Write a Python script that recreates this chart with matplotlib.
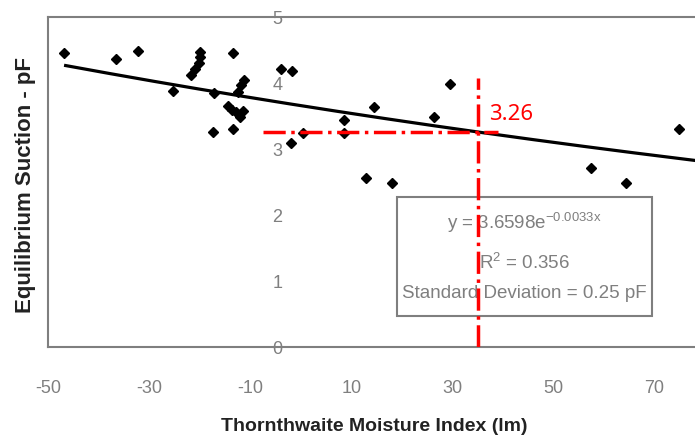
import numpy as np
import matplotlib.pyplot as plt
from matplotlib.patches import Rectangle

# ----- DATA -----
tmi = [-46.8, -36.6, -32.2, -25.3,
       -20.0, -20.0, -20.2, -21.0, -21.8,
       -13.3, -3.9, -1.7, -11.3, -11.8, -12.5, -17.1,
       -14.4, -13.6, -12.8, -11.5, -12.1,
       -17.3, -13.3, 0.4, -1.9,
       8.6, 8.6, 14.5, 26.3, 29.6, 13.0, 18.1,
       57.4, 64.3, 74.9]
suction = [4.46, 4.36, 4.49, 3.88,
           4.47, 4.40, 4.30, 4.21, 4.12,
           4.46, 4.22, 4.19, 4.05, 3.97, 3.87, 3.85,
           3.65, 3.59, 3.57, 3.58, 3.48,
           3.26, 3.30, 3.25, 3.09,
           3.44, 3.24, 3.64, 3.48, 3.98, 2.57, 2.48,
           2.71, 2.48, 3.31]

fit_a, fit_b = 3.6598, -0.0033
fit_range = (-46.5, 78)
mark_x, mark_y = 35, 3.26

x_ticks = [-50, -30, -10, 10, 30, 50, 70]
y_ticks = [0, 1, 2, 3, 4, 5]

arial = ['Liberation Sans', 'DejaVu Sans']
grey = '#7f7f7f'

plt.rcParams['mathtext.fontset'] = 'custom'
plt.rcParams['mathtext.rm'] = 'Liberation Sans'
plt.rcParams['mathtext.it'] = 'Liberation Sans'

fig = plt.figure(figsize=(6.95, 4.4), dpi=100)
ax = fig.add_axes([0.069, 0.211, 0.931, 0.75])

ax.set_xlim(-50, 78)
ax.set_ylim(0, 5)

# fitted curve
xx = np.linspace(fit_range[0], fit_range[1], 200)
ax.plot(xx, fit_a * np.exp(fit_b * xx), color='black', lw=2.3, zorder=3)

# data points
ax.plot(tmi, suction, 'D', color='black', ms=5, zorder=4)

# red guide lines
ax.plot([-7.5, 39], [mark_y, mark_y], color='red', lw=2.5, ls='-.', zorder=5)
ax.plot([mark_x, mark_x], [0, 4.08], color='red', lw=2.5, ls='-.', zorder=5)
ax.text(37.2, 3.52, '3.26', color='red', fontsize=16, va='center', ha='left',
        family=['Noto Sans', 'DejaVu Sans'])

# equation box
box = Rectangle((0.539, 0.094), 0.394, 0.361, transform=ax.transAxes,
                facecolor='white', edgecolor=grey, lw=1.5, zorder=4)
ax.add_patch(box)
ax.text(0.736, 0.375, r'y = 3.6598e$^{\mathrm{-0.0033x}}$', transform=ax.transAxes,
        ha='center', va='center', color=grey, fontsize=13.5, family=arial, zorder=4.5)
ax.text(0.736, 0.254, r'R$^{\mathrm{2}}$ = 0.356', transform=ax.transAxes,
        ha='center', va='center', color=grey, fontsize=13.5, family=arial, zorder=4.5)
ax.text(0.736, 0.163, 'Standard Deviation = 0.25 pF', transform=ax.transAxes,
        ha='center', va='center', color=grey, fontsize=13.5, family=arial, zorder=4.5)

# y labels sit on the axis near x=0
ax.set_yticks([])
for v in y_ticks:
    ax.text(-4.6, v - 0.04, str(v), ha='center', va='center', color=grey,
            fontsize=13, family=arial, zorder=6)

ax.set_xticks(x_ticks)
ax.set_xticklabels([str(t) for t in x_ticks], color=grey, fontsize=13, family=arial)
ax.tick_params(axis='x', length=0, pad=24)

for s in ['left', 'top', 'bottom']:
    ax.spines[s].set_color(grey)
    ax.spines[s].set_linewidth(1.5)
ax.spines['right'].set_visible(False)

fig.text(0.538, 0.03, 'Thornthwaite Moisture Index (lm)', ha='center', va='center',
         fontsize=14, fontweight='bold', color='#222222', family=arial)
fig.text(0.036, 0.58, 'Equilibrium Suction - pF', rotation=90, ha='center', va='center',
         fontsize=16, fontweight='bold', color='#222222', family=arial)

fig.savefig('out.png', dpi=100)
